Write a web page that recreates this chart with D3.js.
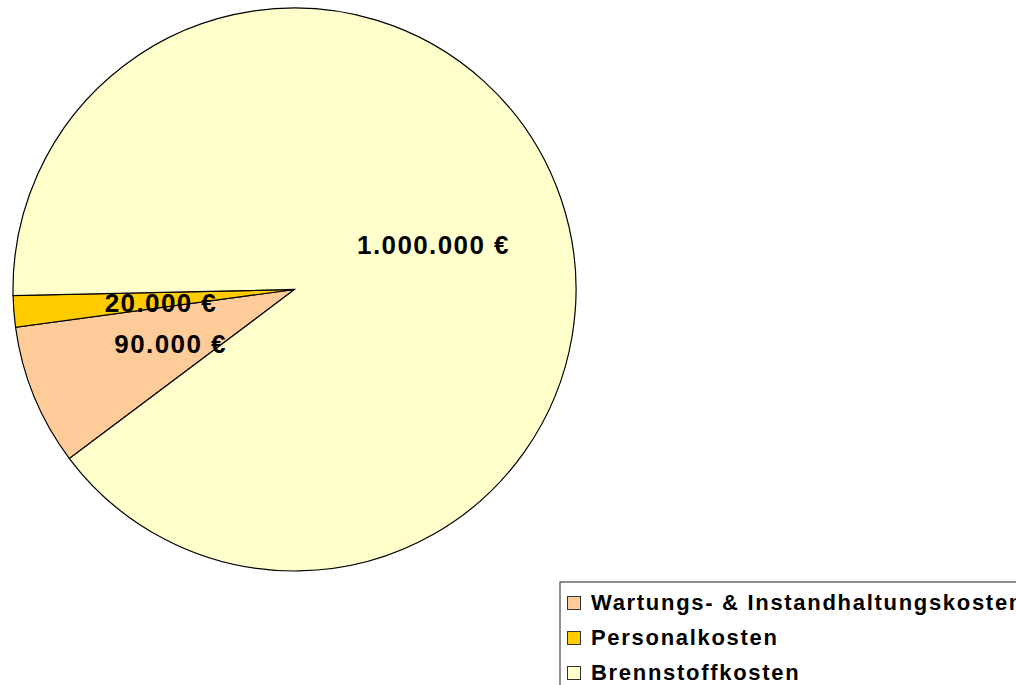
<!DOCTYPE html>
<html>
<head>
<meta charset="utf-8">
<script src="https://cdn.jsdelivr.net/npm/d3@7"></script>
<style>
  body { margin: 0; background: #fff; }
  text { font-family: Arial, "Liberation Sans", sans-serif; font-weight: bold; }
</style>
</head>
<body>
<div id="chart"></div>
<script>
var categories = ["Wartungs- & Instandhaltungskosten", "Personalkosten", "Brennstoffkosten"];
var values = [90000, 20000, 1000000];
var valueLabels = ["90.000 €", "20.000 €", "1.000.000 €"];
var colors = ["#FFCC99", "#FFCC00", "#FFFFCC"];

var width = 1016, height = 685;
var cx = 294.5, cy = 289.5, radius = 281.5;

var svg = d3.select("#chart").append("svg")
    .attr("width", width)
    .attr("height", height);

var g = svg.append("g")
    .attr("transform", "translate(" + cx + "," + cy + ")");

// slices go clockwise, first one starts lower left
var pie = d3.pie()
    .sort(null)
    .startAngle(233.1 * Math.PI / 180)
    .endAngle((233.1 + 360) * Math.PI / 180)
    .value(function(d){ return d; });

var arc = d3.arc().innerRadius(0).outerRadius(radius);

var arcs = pie(values);

g.selectAll("path")
    .data(arcs)
    .enter()
    .append("path")
    .attr("d", arc)
    .attr("fill", function(d, i){ return colors[i]; })
    .attr("stroke", "#000")
    .attr("stroke-width", 1.2);

// labels roughly half way out
function labelPos(d){
    var r = (d.index == 2) ? 147 : 134;
    var a = (d.startAngle + d.endAngle) / 2;
    return [Math.sin(a) * r, -Math.cos(a) * r];
}

g.selectAll("text.val")
    .data(arcs)
    .enter()
    .append("text")
    .attr("class", "val")
    .attr("x", function(d){ return labelPos(d)[0]; })
    .attr("y", function(d){ return labelPos(d)[1]; })
    .attr("dy", "0.48em")
    .attr("text-anchor", "middle")
    .style("font-size", "26px")
    .style("letter-spacing", "1.4px")
    .text(function(d, i){ return valueLabels[i]; });

// legend
var legend = svg.append("g")
    .attr("transform", "translate(560,582)");

legend.append("rect")
    .attr("x", 0)
    .attr("y", 0)
    .attr("width", 480)
    .attr("height", 120)
    .attr("fill", "#fff")
    .attr("stroke", "#444")
    .attr("stroke-width", 1.2);

var item = legend.selectAll("g.item")
    .data(categories)
    .enter()
    .append("g")
    .attr("class", "item")
    .attr("transform", function(d, i){ return "translate(0," + (i * 35) + ")"; });

item.append("rect")
    .attr("x", 7.5)
    .attr("y", 14.5)
    .attr("width", 13)
    .attr("height", 13)
    .attr("fill", function(d, i){ return colors[i]; })
    .attr("stroke", "#333")
    .attr("stroke-width", 1);

item.append("text")
    .attr("x", 31)
    .attr("y", 28)
    .style("font-size", "22px")
    .style("letter-spacing", "1.7px")
    .text(function(d){ return d; });
</script>
</body>
</html>
